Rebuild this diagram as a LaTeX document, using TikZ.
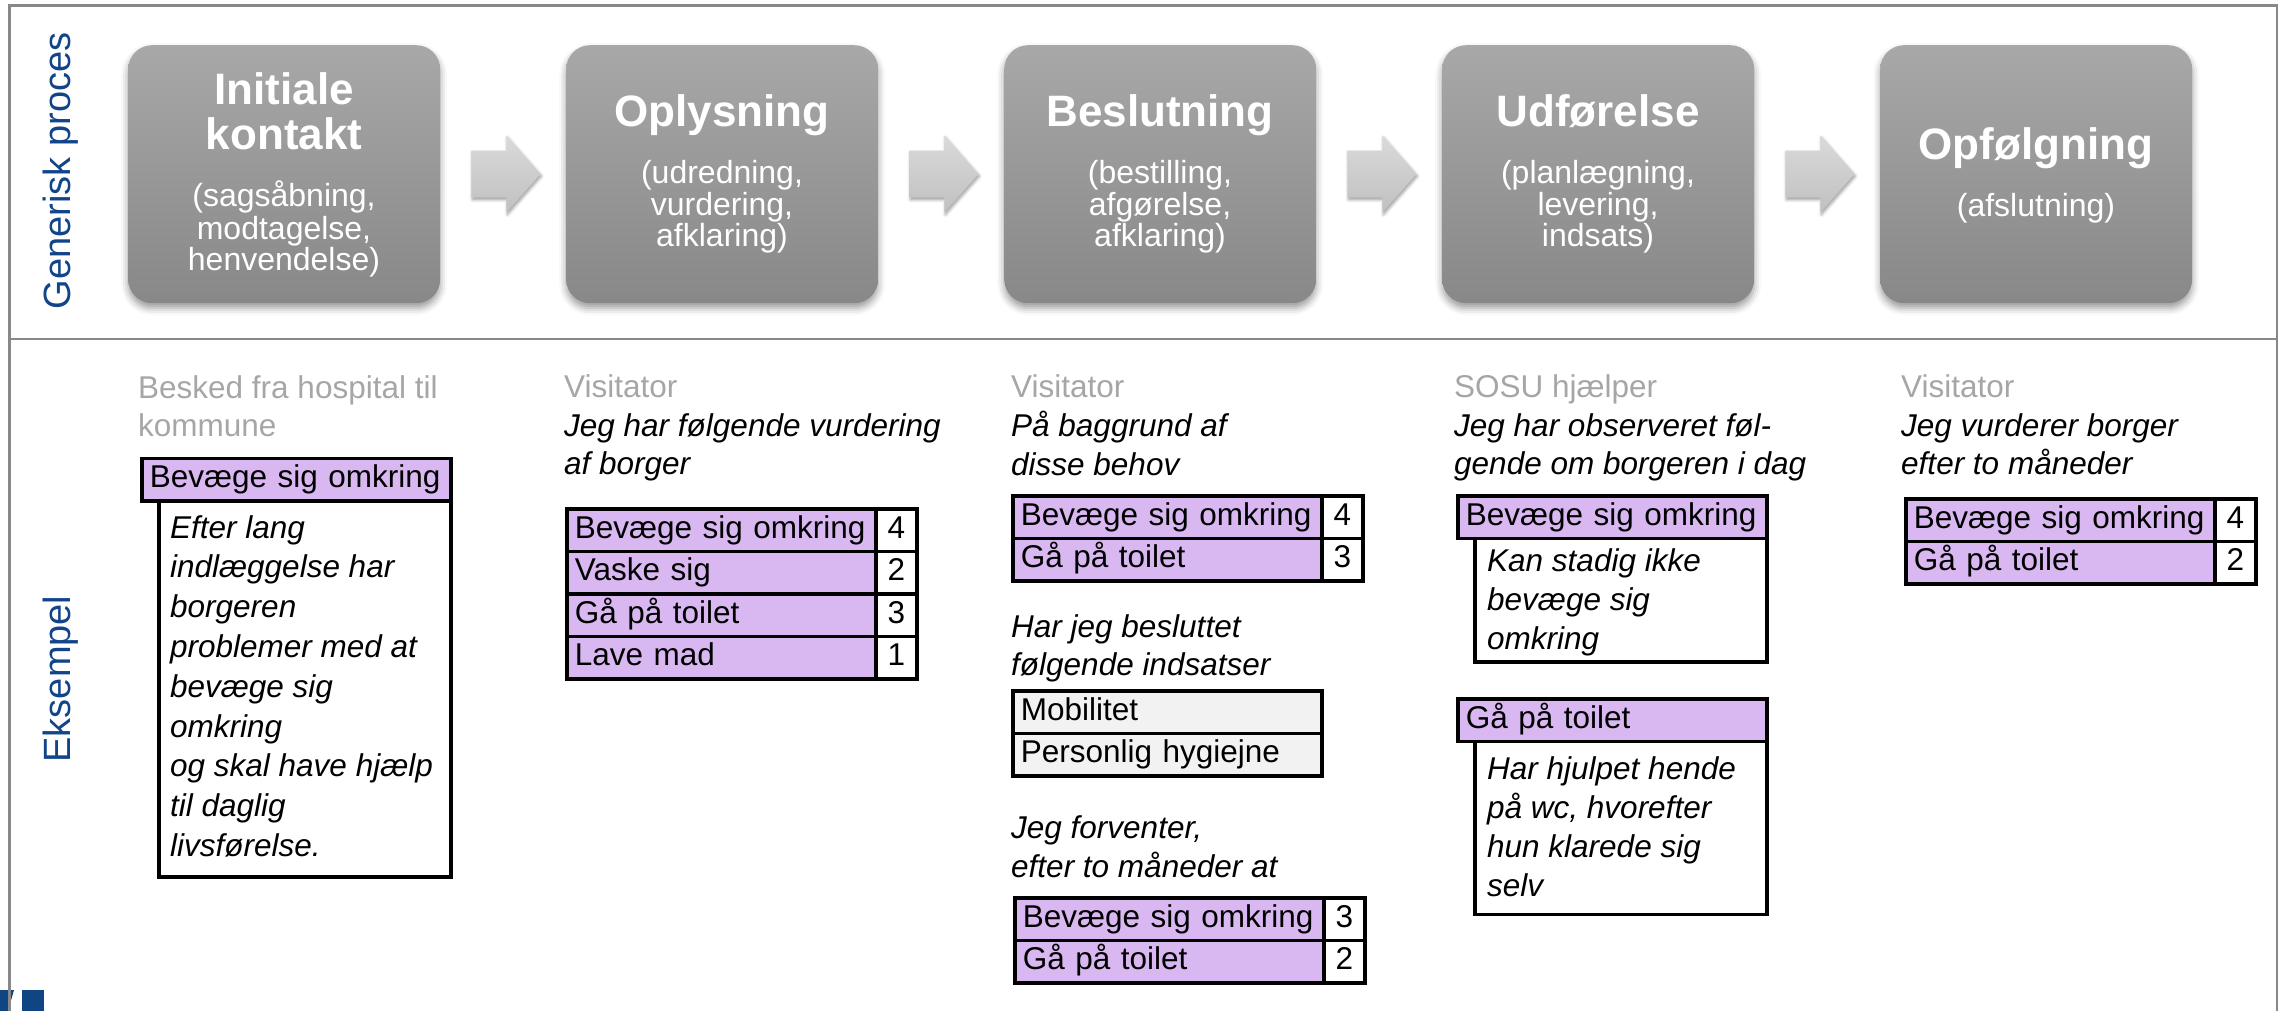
\documentclass[tikz,border=0pt]{standalone}
\usepackage{fontspec}
\setmainfont{Liberation Sans}
\usetikzlibrary{calc,shadows.blur}

\definecolor{boxtop}{RGB}{168,168,168}
\definecolor{boxbot}{RGB}{136,136,136}
\definecolor{arrtop}{RGB}{218,218,218}
\definecolor{arrbot}{RGB}{192,192,192}
\definecolor{labblue}{RGB}{18,68,138}
\definecolor{hdrgray}{RGB}{166,166,166}
\definecolor{lav}{RGB}{217,184,242}
\definecolor{lightcell}{RGB}{242,242,242}
\definecolor{framegray}{RGB}{136,136,136}
\definecolor{logoblue}{RGB}{16,69,132}

\newcommand{\blkarrow}[1]{%
  \shade[top color=arrtop, bottom color=arrbot,
         blur shadow={shadow xshift=1pt, shadow yshift=-2pt, shadow blur radius=3pt}]
    ($(#1.east)+(31,-23.5)$) -- ++(35,0) -- ++(0,-15) -- ++(34,38.5)
    -- ++(-34,38.5) -- ++(0,-15) -- ++(-35,0) -- cycle;}

\begin{document}
\begin{tikzpicture}[x=1pt,y=-1pt,
  procbox/.style={rectangle, rounded corners=24pt, top color=boxtop, bottom color=boxbot,
    minimum width=312pt, minimum height=258pt, inner sep=0pt, anchor=north west,
    blur shadow={shadow xshift=0pt, shadow yshift=-5pt, shadow blur radius=7pt}},
  ptitle/.style={font=\fontsize{44}{48}\selectfont\bfseries, text=white, anchor=base, inner sep=0pt},
  psub/.style={font=\fontsize{32}{33}\selectfont, text=white, anchor=base, inner sep=0pt},
  sidelabel/.style={rotate=90, font=\fontsize{38}{40}\selectfont, text=labblue, inner sep=0pt},
  hdr/.style={font=\fontsize{31.5}{38}\selectfont, text=hdrgray, anchor=base west, inner sep=0pt},
  itx/.style={font=\fontsize{31.5}{38}\selectfont\itshape, anchor=base west, inner sep=0pt},
  cellbase/.style={draw=black, line width=3.8pt, inner ysep=0pt, minimum height=42.5pt,
    text height=23pt, text depth=7pt, font=\fontsize{31.5}{38}\selectfont, anchor=north west},
  need/.style={cellbase, fill=lav, text width=293pt, inner xsep=8pt, align=left},
  score/.style={cellbase, fill=white, minimum width=41pt, inner xsep=0pt},
  ind/.style={cellbase, fill=lightcell, text width=293pt, inner xsep=8pt, align=left},
  cbox/.style={draw=black, line width=3.8pt, fill=white, anchor=north west, inner sep=0pt}
]
\useasboundingbox (0,0) rectangle (2285,1011);

% logo fragment
\fill[logoblue] (0,990) -- (14,990) -- (8,1011) -- (0,1011) -- cycle;
\fill[logoblue] (22,990) rectangle (44,1011);

% frame
\draw[framegray, line width=2.5pt] (9.5,1011) -- (9.5,5.5) -- (2277,5.5) -- (2277,1011);
\draw[framegray, line width=2.5pt] (9.5,339) -- (2277,339);

% side labels
\node[sidelabel] (gp) at (61,171) {Generisk proces};
\node[sidelabel] (eks) at (61,679) {Eksempel};

% process boxes
\node[procbox] (b1) at (128,45) {};
\node[procbox] (b2) at (566,45) {};
\node[procbox] (b3) at (1004,45) {};
\node[procbox] (b4) at (1442,45) {};
\node[procbox] (b5) at (1880,45) {};

\blkarrow{b1}
\blkarrow{b2}
\blkarrow{b3}
\blkarrow{b4}

% box 1
\node[ptitle] (t1a) at (284,105) {Initiale};
\node[ptitle] (t1b) at (284,150) {kontakt};
\node[psub] (s1a) at (284,207) {(sagsåbning,};
\node[psub] (s1b) at (284,239) {modtagelse,};
\node[psub] (s1c) at (284,270) {henvendelse)};
% box 2
\node[ptitle] (t2) at (722,127) {Oplysning};
\node[psub] (s2a) at (722,184) {(udredning,};
\node[psub] (s2b) at (722,215) {vurdering,};
\node[psub] (s2c) at (722,246) {afklaring)};
% box 3
\node[ptitle] (t3) at (1160,127) {Beslutning};
\node[psub] (s3a) at (1160,184) {(bestilling,};
\node[psub] (s3b) at (1160,215) {afgørelse,};
\node[psub] (s3c) at (1160,246) {afklaring)};
% box 4
\node[ptitle] (t4) at (1598,127) {Udførelse};
\node[psub] (s4a) at (1598,184) {(planlægning,};
\node[psub] (s4b) at (1598,215) {levering,};
\node[psub] (s4c) at (1598,246) {indsats)};
% box 5
\node[ptitle] (t5) at (2036,160) {Opfølgning};
\node[psub] (s5a) at (2036,216) {(afslutning)};

% ---- column 1
\node[hdr] (c1h1) at (138,398) {Besked fra hospital til};
\node[hdr] (c1h2) at (138,436) {kommune};
\node[cbox, minimum width=292pt, minimum height=376pt] (c1box) at (157,499) {};
\node[need] (c1need) at (140,456.5) {Bevæge sig omkring};
\node[itx] (c1l1) at (170,538) {Efter lang};
\node[itx] (c1l2) at (170,577.8) {indlæggelse har};
\node[itx] (c1l3) at (170,617.6) {borgeren};
\node[itx] (c1l4) at (170,657.4) {problemer med at};
\node[itx] (c1l5) at (170,697.2) {bevæge sig};
\node[itx] (c1l6) at (170,737) {omkring};
\node[itx] (c1l7) at (170,776.8) {og skal have hjælp};
\node[itx] (c1l8) at (170,816.6) {til daglig};
\node[itx] (c1l9) at (170,856.4) {livsførelse.};

% ---- column 2
\node[hdr] (c2h) at (564,397) {Visitator};
\node[itx] (c2i1) at (564,436) {Jeg har følgende vurdering};
\node[itx] (c2i2) at (564,474) {af borger};
\node[need] (c2r1) at (565,507) {Bevæge sig omkring};
\node[score] (c2n1) at (874,507) {4};
\node[need] (c2r2) at (565,549.5) {Vaske sig};
\node[score] (c2n2) at (874,549.5) {2};
\node[need] (c2r3) at (565,592) {Gå på toilet};
\node[score] (c2n3) at (874,592) {3};
\node[need] (c2r4) at (565,634.5) {Lave mad};
\node[score] (c2n4) at (874,634.5) {1};

% ---- column 3
\node[hdr] (c3h) at (1011,397) {Visitator};
\node[itx] (c3i1) at (1011,436) {På baggrund af};
\node[itx] (c3i2) at (1011,475) {disse behov};
\node[need] (c3r1) at (1011,494) {Bevæge sig omkring};
\node[score] (c3n1) at (1320,494) {4};
\node[need] (c3r2) at (1011,536.5) {Gå på toilet};
\node[score] (c3n2) at (1320,536.5) {3};
\node[itx] (c3i3) at (1011,637) {Har jeg besluttet};
\node[itx] (c3i4) at (1011,675.5) {følgende indsatser};
\node[ind] (c3g1) at (1011,689) {Mobilitet};
\node[ind] (c3g2) at (1011,731.5) {Personlig hygiejne};
\node[itx] (c3i5) at (1011,838) {Jeg forventer,};
\node[itx] (c3i6) at (1011,877) {efter to måneder at};
\node[need] (c3r3) at (1013,896) {Bevæge sig omkring};
\node[score] (c3n3) at (1322,896) {3};
\node[need] (c3r4) at (1013,938.5) {Gå på toilet};
\node[score] (c3n4) at (1322,938.5) {2};

% ---- column 4
\node[hdr] (c4h) at (1454,397) {SOSU hjælper};
\node[itx] (c4i1) at (1454,436) {Jeg har observeret føl-};
\node[itx] (c4i2) at (1454,474) {gende om borgeren i dag};
\node[cbox, minimum width=292pt, minimum height=123.5pt] (c4box1) at (1473,536.5) {};
\node[need] (c4need1) at (1456,494) {Bevæge sig omkring};
\node[itx] (c4a1) at (1487,571) {Kan stadig ikke};
\node[itx] (c4a2) at (1487,610) {bevæge sig};
\node[itx] (c4a3) at (1487,649) {omkring};
\node[cbox, minimum width=292pt, minimum height=173pt] (c4box2) at (1473,739.5) {};
\node[need] (c4need2) at (1456,697) {Gå på toilet};
\node[itx] (c4b1) at (1487,779) {Har hjulpet hende};
\node[itx] (c4b2) at (1487,818) {på wc, hvorefter};
\node[itx] (c4b3) at (1487,857) {hun klarede sig};
\node[itx] (c4b4) at (1487,896) {selv};

% ---- column 5
\node[hdr] (c5h) at (1901,397) {Visitator};
\node[itx] (c5i1) at (1901,436) {Jeg vurderer borger};
\node[itx] (c5i2) at (1901,474) {efter to måneder};
\node[need] (c5r1) at (1904,497) {Bevæge sig omkring};
\node[score] (c5n1) at (2213,497) {4};
\node[need] (c5r2) at (1904,539.5) {Gå på toilet};
\node[score] (c5n2) at (2213,539.5) {2};
\end{tikzpicture}
\end{document}
